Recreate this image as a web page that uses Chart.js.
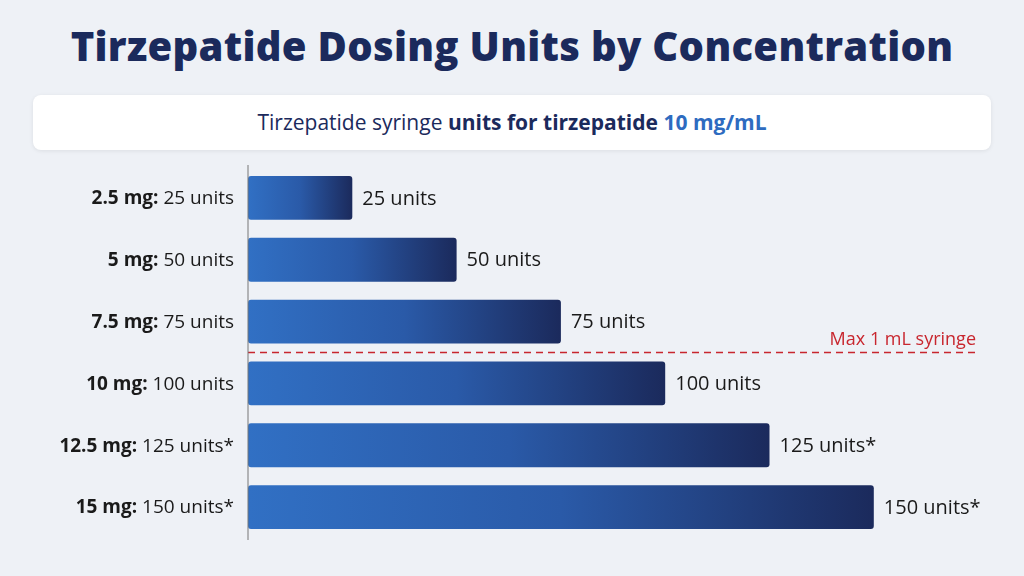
<!DOCTYPE html>
<html lang="en">
<head>
<meta charset="UTF-8">
<title>Tirzepatide Dosing Units</title>
<script src="https://cdn.jsdelivr.net/npm/chart.js"></script>
<style>
  body { margin:0; width:1024px; height:576px; background:#eef1f6; font-family:'Open Sans',sans-serif; overflow:hidden; position:relative; }
  h1 { position:absolute; top:18px; left:0; width:1024px; margin:0; text-align:center; font-size:40px; font-weight:800; color:#1b2a5c; letter-spacing:0.3px; }
  .sub { position:absolute; left:33px; top:95px; width:958px; height:55px; background:#fff; border-radius:8px; box-shadow:0 1px 4px rgba(0,0,0,0.08); text-align:center; line-height:55px; font-size:21px; color:#1b2a5c; }
  .sub b { font-weight:700; }
  .sub .hl { color:#2e6bc0; font-weight:700; }
  #wrap { position:absolute; left:0; top:0; width:1024px; height:576px; }
</style>
</head>
<body>
<h1>Tirzepatide Dosing Units by Concentration</h1>
<div class="sub">Tirzepatide syringe <b>units for tirzepatide</b> <span class="hl">10 mg/mL</span></div>
<div id="wrap"><canvas id="chart" width="1024" height="576"></canvas></div>
<script>
  // dose data
  const doses = ['2.5 mg:', '5 mg:', '7.5 mg:', '10 mg:', '12.5 mg:', '15 mg:'];
  const units = [25, 50, 75, 100, 125, 150];
  const unitLabels = ['25 units', '50 units', '75 units', '100 units', '125 units*', '150 units*'];
  const maxSyringe = 100;

  function barFill(ctx) {
    const chart = ctx.chart;
    if (!chart.chartArea) return '#2e6bc0';
    const x = chart.scales.x;
    const x0 = x.getPixelForValue(0), x1 = x.getPixelForValue(units[ctx.dataIndex]);
    const g = chart.ctx.createLinearGradient(x0, 0, x1, 0);
    g.addColorStop(0, '#3170c4');
    g.addColorStop(0.5, '#2a5aa8');
    g.addColorStop(1, '#1b2a5c');
    return g;
  }

  const extras = {
    id: 'extras',
    afterDatasetsDraw(chart) {
      const c = chart.ctx, x = chart.scales.x, y = chart.scales.y;
      const meta = chart.getDatasetMeta(0);
      c.save();
      c.textBaseline = 'middle';
      meta.data.forEach((bar, i) => {
        // value label
        c.font = '20px "Open Sans"';
        c.fillStyle = '#1a1a1a';
        c.textAlign = 'left';
        c.fillText(unitLabels[i], bar.x + 10, bar.y + 1);
        // category label: bold dose + normal units
        const rest = ' ' + units[i] + ' units' + (units[i] > maxSyringe ? '*' : '');
        c.font = '19px "Open Sans"';
        const w2 = c.measureText(rest).width;
        c.textAlign = 'right';
        c.fillText(rest, 234, bar.y + 1);
        c.font = 'bold 19px "Open Sans"';
        c.fillText(doses[i], 234 - w2, bar.y + 1);
      });
      // max syringe line between 75 and 100 rows
      const ly = (y.getPixelForValue(2) + y.getPixelForValue(3)) / 2;
      c.strokeStyle = '#c8262e';
      c.lineWidth = 1.5;
      c.setLineDash([7, 5]);
      c.beginPath();
      c.moveTo(x.left, ly);
      c.lineTo(976, ly);
      c.stroke();
      c.setLineDash([]);
      c.fillStyle = '#c8262e';
      c.font = '18px "Open Sans"';
      c.textAlign = 'right';
      c.textBaseline = 'bottom';
      c.fillText('Max 1 mL syringe', 976, ly - 4);
      // axis line
      c.strokeStyle = '#777';
      c.lineWidth = 1;
      c.beginPath();
      c.moveTo(x.left, 165);
      c.lineTo(x.left, 540);
      c.stroke();
      c.restore();
    }
  };

  new Chart(document.getElementById('chart'), {
    type: 'bar',
    data: {
      labels: doses,
      datasets: [{
        data: units,
        backgroundColor: barFill,
        borderRadius: 3,
        borderSkipped: false,
        barPercentage: 0.71,
        categoryPercentage: 1
      }]
    },
    options: {
      indexAxis: 'y',
      responsive: false,
      animation: false,
      devicePixelRatio: 1,
      layout: { padding: { left: 248, top: 167, bottom: 38, right: 0 } },
      plugins: { legend: { display: false }, tooltip: { enabled: false } },
      scales: {
        x: { display: false, min: 0, max: 186 },
        y: { display: false }
      }
    },
    plugins: [extras]
  });
</script>
</body>
</html>
